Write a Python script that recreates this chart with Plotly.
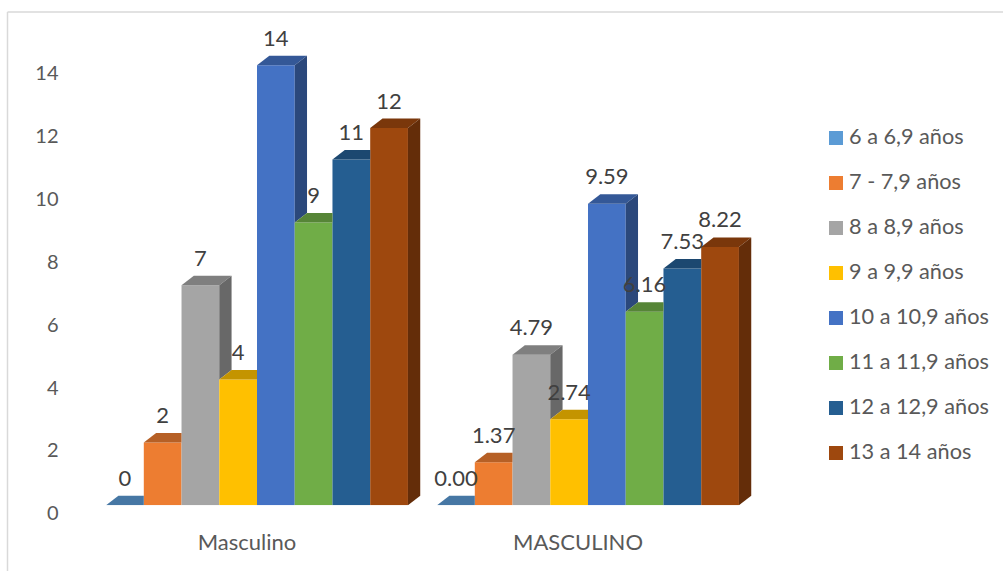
import plotly.graph_objects as go

# Age bands and the share of each band in the two groups
categories = ["Masculino", "MASCULINO"]
age_bands = ["6 a 6,9 años", "7 - 7,9 años", "8 a 8,9 años", "9 a 9,9 años",
             "10 a 10,9 años", "11 a 11,9 años", "12 a 12,9 años", "13 a 14 años"]
masculino = [0, 2, 7, 4, 14, 9, 11, 12]
masculino_pct = [0.00, 1.37, 4.79, 2.74, 9.59, 6.16, 7.53, 8.22]
masculino_labels = ["0", "2", "7", "4", "14", "9", "11", "12"]
masculino_pct_labels = ["0.00", "1.37", "4.79", "2.74", "9.59", "6.16", "7.53", "8.22"]
colors = ["#5B9BD5", "#ED7D31", "#A5A5A5", "#FFC000",
          "#4472C4", "#70AD47", "#255E91", "#9E480E"]
y_ticks = [0, 2, 4, 6, 8, 10, 12, 14]

W, H = 1003, 571
LEFT, RIGHT = 91.5, 753.5      # plot area, px
BASE, TOP = 505.3, 33.8
Y_MAX = 15
BARGAP = 0.088
BAR_W = (1 - BARGAP) / len(age_bands)
PX_X = RIGHT - LEFT
PX_X_UNIT = PX_X / 2
PX_Y_UNIT = (BASE - TOP) / Y_MAX
DX = 12.3 / PX_X_UNIT          # depth of the extruded faces, in data units
DY = 9.5 / PX_Y_UNIT
LABEL_LIFT = 25 / PX_Y_UNIT
FONT = "Lato"
TEXT_SIZE = 22


def shade(hex_color, factor):
    r, g, b = (int(hex_color[i:i + 2], 16) for i in (1, 3, 5))
    return f"rgb({r * factor:.0f},{g * factor:.0f},{b * factor:.0f})"


def polygon(xs, ys, color):
    return go.Scatter(x=xs + xs[:1], y=ys + ys[:1], mode="lines", fill="toself",
                      fillcolor=color, line=dict(width=0), hoverinfo="skip",
                      showlegend=False)


fig = go.Figure()

# Front faces
for i, name in enumerate(age_bands):
    fig.add_trace(go.Bar(name=name, x=[0, 1], y=[masculino[i], masculino_pct[i]],
                         marker=dict(color=colors[i], line=dict(width=0)),
                         showlegend=False))

# Top and side faces, trimmed where the next bar in the row hides them
for g, values in enumerate([masculino, masculino_pct]):
    for i, v in enumerate(values):
        xl = g - (1 - BARGAP) / 2 + i * BAR_W
        xr = xl + BAR_W
        nxt = values[i + 1] if i + 1 < len(values) else None
        if nxt is not None and nxt > v:
            top_x = [xl, xr, xr, xl + DX]
            top_y = [v, v, v + DY, v + DY]
        else:
            top_x = [xl, xr, xr + DX, xl + DX]
            top_y = [v, v, v + DY, v + DY]
        fig.add_trace(polygon(top_x, top_y, shade(colors[i], 0.77)))
        low = 0 if nxt is None else nxt
        if low < v:
            fig.add_trace(polygon([xr, xr + DX, xr + DX, xr],
                                  [v, v + DY, low + DY, low],
                                  shade(colors[i], 0.63)))

# Value labels above each bar
for g, (values, labels) in enumerate([(masculino, masculino_labels),
                                      (masculino_pct, masculino_pct_labels)]):
    fig.add_trace(go.Scatter(
        x=[g - (1 - BARGAP) / 2 + (i + 0.5) * BAR_W for i in range(len(values))],
        y=[v + LABEL_LIFT for v in values],
        text=labels, mode="text", textposition="middle center",
        textfont=dict(family=FONT, size=TEXT_SIZE, color="#404040"),
        hoverinfo="skip", showlegend=False, cliponaxis=False))

# Chart frame (top and left edges) and the key on the right
shapes = [
    dict(type="line", xref="paper", yref="paper", x0=7.5 / W, x1=1, y0=1 - 12 / H, y1=1 - 12 / H,
         line=dict(color="#D9D9D9", width=1.5)),
    dict(type="line", xref="paper", yref="paper", x0=7.5 / W, x1=7.5 / W, y0=0, y1=1 - 12 / H,
         line=dict(color="#D9D9D9", width=1.5)),
]
annotations = []
for i, name in enumerate(age_bands):
    cy = 138 + i * 45
    shapes.append(dict(type="rect", xref="paper", yref="paper",
                       x0=829 / W, x1=843 / W, y0=1 - (cy + 7) / H, y1=1 - (cy - 7) / H,
                       fillcolor=colors[i], line=dict(width=0)))
    annotations.append(dict(xref="paper", yref="paper", x=846.5 / W, y=1 - (cy - 2) / H,
                            text=name, showarrow=False, xanchor="left", yanchor="middle",
                            font=dict(family=FONT, size=21.7, color="#595959")))

fig.update_layout(
    width=W, height=H, autosize=False,
    margin=dict(l=0, r=0, t=0, b=0, pad=0, autoexpand=False),
    paper_bgcolor="white", plot_bgcolor="white",
    barmode="group", bargap=BARGAP, bargroupgap=0,
    showlegend=False, shapes=shapes, annotations=annotations,
    font=dict(family=FONT, color="#595959"),
    xaxis=dict(domain=[LEFT / W, RIGHT / W], range=[-0.5, 1.5], automargin=False,
               tickmode="array", tickvals=[0, 1], ticktext=categories,
               showgrid=False, zeroline=False, showline=False, ticks="",
               tickfont=dict(family=FONT, size=TEXT_SIZE, color="#595959"),
               ticklabelstandoff=22, ticklabelshift=-10),
    yaxis=dict(domain=[1 - BASE / H, 1 - TOP / H], range=[0, Y_MAX], automargin=False,
               tickmode="array", tickvals=y_ticks,
               showgrid=False, zeroline=False, showline=False, ticks="",
               tickfont=dict(family=FONT, size=20, color="#595959"),
               ticklabelstandoff=32, ticklabelshift=8),
)

fig.write_html("out.html", config=dict(displayModeBar=False))
